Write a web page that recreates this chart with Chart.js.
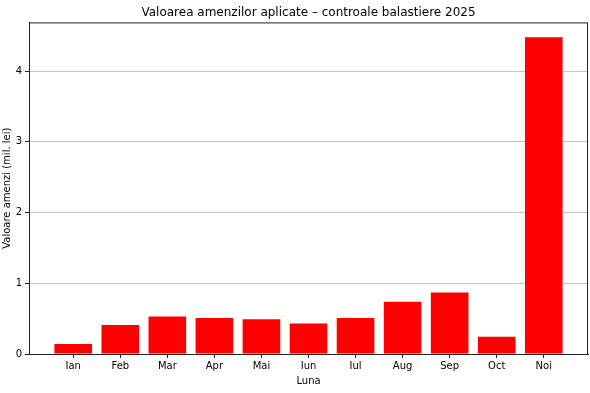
<!DOCTYPE html>
<html>
<head>
<meta charset="utf-8">
<script src="https://cdn.jsdelivr.net/npm/chart.js@4"></script>
<style>
  html, body { margin: 0; padding: 0; background: #fff; }
  #wrap { width: 590px; height: 393px; }
</style>
</head>
<body>
<div id="wrap"><canvas id="fineChart" width="590" height="393"></canvas></div>
<script>
// Data
const months = ['Ian', 'Feb', 'Mar', 'Apr', 'Mai', 'Iun', 'Iul', 'Aug', 'Sep', 'Oct', 'Noi'];
const fineValues = [0.14, 0.41, 0.53, 0.51, 0.49, 0.43, 0.51, 0.74, 0.87, 0.245, 4.48];
const yTicks = [0, 1, 2, 3, 4];

const FONT = "'DejaVu Sans', sans-serif";

// draw the top and right spines too, like a boxed axes
const frameBox = {
    id: 'frameBox',
    afterDraw(chart) {
        const { ctx, chartArea: a } = chart;
        ctx.save();
        ctx.strokeStyle = '#222';
        ctx.lineWidth = 1;
        ctx.strokeRect(a.left + 0.5, a.top + 0.5, a.right - a.left - 1, a.bottom - a.top);
        ctx.restore();
    }
};

const ctx = document.getElementById('fineChart').getContext('2d');
new Chart(ctx, {
    type: 'bar',
    data: {
        datasets: [{
            data: months.map((m, i) => ({ x: i, y: fineValues[i] })),
            backgroundColor: '#ff0000',
            borderWidth: 0,
            barPercentage: 0.8,
            categoryPercentage: 1.0
        }]
    },
    options: {
        responsive: false,
        animation: false,
        layout: { padding: { left: 0, right: 2, top: 0, bottom: 0 } },
        plugins: {
            legend: { display: false },
            tooltip: { enabled: false },
            title: {
                display: true,
                fullSize: false,
                text: 'Valoarea amenzilor aplicate – controale balastiere 2025',
                color: '#000',
                font: { family: FONT, size: 12, weight: 'normal' },
                padding: { top: 6, bottom: 2 }
            }
        },
        scales: {
            x: {
                type: 'linear',
                offset: false,
                min: -0.94,
                max: 10.94,
                afterBuildTicks: s => { s.ticks = months.map((m, i) => ({ value: i })); },
                afterFit: s => { s.height = 39; },
                ticks: {
                    callback: v => months[v] ?? '',
                    color: '#000',
                    font: { family: FONT, size: 10 },
                    padding: 2,
                    maxRotation: 0,
                    autoSkip: false
                },
                grid: { offset: false, drawOnChartArea: false, tickLength: 4, tickColor: '#222' },
                border: { color: '#222' },
                title: {
                    display: true,
                    text: 'Luna',
                    color: '#000',
                    font: { family: FONT, size: 10 },
                    padding: { top: 1, bottom: 6 }
                }
            },
            y: {
                min: 0,
                max: 4.69,
                z: 1,
                afterBuildTicks: s => { s.ticks = yTicks.map(v => ({ value: v })); },
                afterFit: s => { s.width = 29; },
                ticks: {
                    color: '#000',
                    font: { family: FONT, size: 10 },
                    padding: 3
                },
                grid: { color: '#c4c4c4', tickLength: 4, tickColor: '#222' },
                border: { color: '#222' },
                title: {
                    display: true,
                    text: 'Valoare amenzi (mil. lei)',
                    color: '#000',
                    font: { family: FONT, size: 10 },
                    padding: { top: 1, bottom: 0 }
                }
            }
        }
    },
    plugins: [frameBox]
});
</script>
</body>
</html>
